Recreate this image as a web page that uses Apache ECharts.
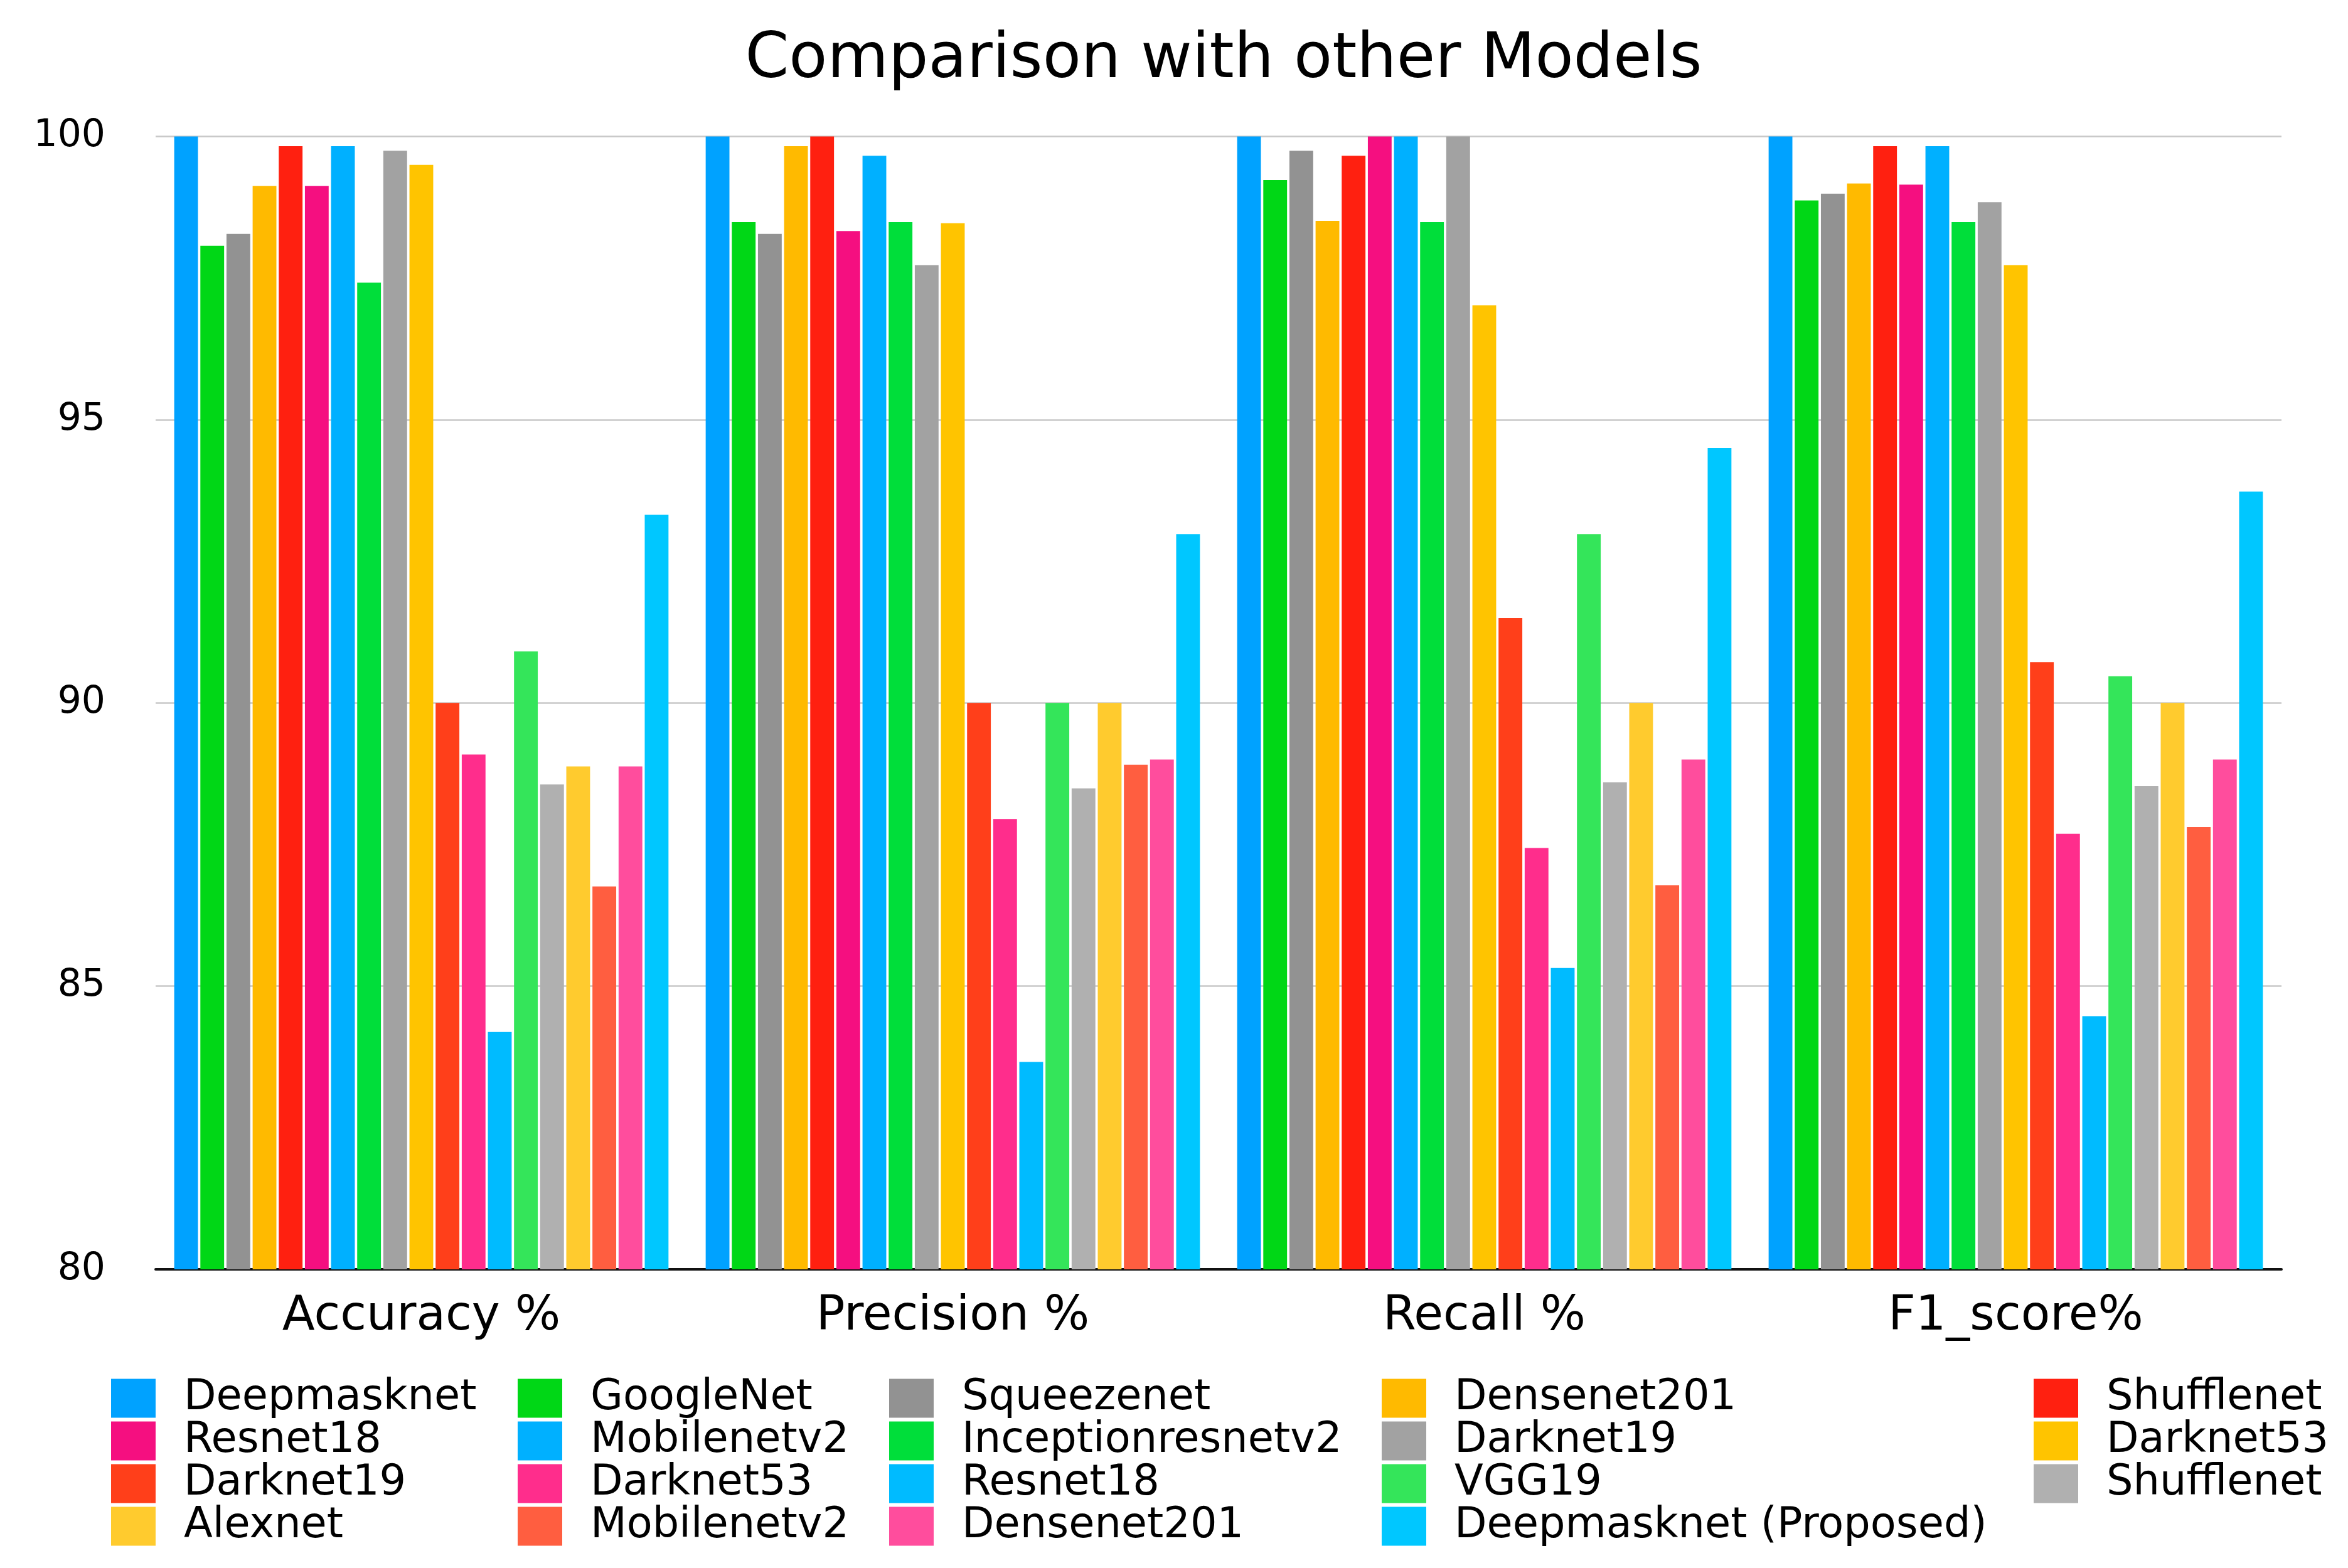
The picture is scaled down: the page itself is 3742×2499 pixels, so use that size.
<!DOCTYPE html>
<html><head><meta charset="utf-8">
<script src="https://cdn.jsdelivr.net/npm/echarts@6/dist/echarts.min.js"></script>
<style>html,body{margin:0;padding:0;background:#fff}#c{width:3742px;height:2499px}</style>
</head><body><div id="c"></div>
<script>
const categories = ['Accuracy %', 'Precision %', 'Recall %', 'F1_score%'];
const yTicks = [80, 85, 90, 95, 100];

// series names in legend order (row-major); "\u200B" keeps repeated names distinct
const seriesNames = [
  'Deepmasknet', 'GoogleNet', 'Squeezenet', 'Densenet201', 'Shufflenet',
  'Resnet18', 'Mobilenetv2', 'Inceptionresnetv2', 'Darknet19', 'Darknet53',
  'Darknet19\u200B', 'Darknet53\u200B', 'Resnet18\u200B', 'VGG19', 'Shufflenet\u200B',
  'Alexnet', 'Mobilenetv2\u200B', 'Densenet201\u200B', 'Deepmasknet (Proposed)'
];
const seriesColors = [
  '#00A2FF', '#00D716', '#929292', '#FFBA00', '#FF2010',
  '#F50F80', '#00B0FF', '#00DE3A', '#A2A2A2', '#FFC400',
  '#FF3F1A', '#FF2D8C', '#00BBFF', '#34E55A', '#B0B0B0',
  '#FFCB2E', '#FF5E40', '#FF4D9D', '#00C7FF'
];

const deepmasknet      = [100.00, 100.00, 100.00, 100.00];
const googlenet        = [98.07, 98.49, 99.23, 98.87];
const squeezenet       = [98.28, 98.28, 99.75, 98.99];
const densenet201      = [99.13, 99.83, 98.51, 99.17];
const shufflenet       = [99.83, 100.00, 99.66, 99.83];
const resnet18         = [99.13, 98.33, 100.00, 99.15];
const mobilenetv2      = [99.83, 99.66, 100.00, 99.83];
const inceptionresnet  = [97.42, 98.49, 98.49, 98.49];
const darknet19        = [99.75, 97.73, 100.00, 98.84];
const darknet53        = [99.50, 98.47, 97.02, 97.73];
const darknet19b       = [90.00, 90.00, 91.50, 90.72];
const darknet53b       = [89.09, 87.95, 87.44, 87.69];
const resnet18b        = [84.19, 83.66, 85.32, 84.47];
const vgg19            = [90.91, 90.00, 92.98, 90.47];
const shufflenetb      = [88.56, 88.49, 88.60, 88.53];
const alexnet          = [88.88, 90.00, 90.00, 90.00];
const mobilenetv2b     = [86.76, 88.91, 86.78, 87.81];
const densenet201b     = [88.88, 89.00, 89.00, 89.00];
const deepmasknetProp  = [93.32, 92.98, 94.50, 93.73];

const seriesValues = [
  deepmasknet, googlenet, squeezenet, densenet201, shufflenet,
  resnet18, mobilenetv2, inceptionresnet, darknet19, darknet53,
  darknet19b, darknet53b, resnet18b, vgg19, shufflenetb,
  alexnet, mobilenetv2b, densenet201b, deepmasknetProp
];

const FONT = 'DejaVu Sans';
const chart = echarts.init(document.getElementById('c'), null, {renderer: 'canvas'});

const series = seriesNames.map((name, i) => ({
  name: name,
  type: 'bar',
  data: seriesValues[i],
  barGap: '10%',
  barCategoryGap: '7%',
  itemStyle: {color: seriesColors[i]},
  emphasis: {disabled: true},
  z: 2
}));

const colLeft = [172, 820, 1412, 2197, 3236];
const legends = colLeft.map((left, c) => {
  const data = [];
  for (let r = 0; r < 4; r++) {
    const idx = r * 5 + c;
    if (idx < seriesNames.length) data.push(seriesNames[idx]);
  }
  return {
    orient: 'vertical',
    left: left,
    top: 2190,
    itemWidth: 71,
    itemHeight: 62,
    itemGap: 1,
    icon: 'rect',
    selectedMode: false,
    data: data,
    textStyle: {fontFamily: FONT, fontSize: 67, color: '#000', padding: [0, 0, 0, 40]}
  };
});

chart.setOption({
  animation: false,
  backgroundColor: '#fff',
  title: {
    text: 'Comparison with other Models',
    left: 1945,
    top: 42,
    textAlign: 'center',
    textStyle: {fontFamily: FONT, fontSize: 100, fontWeight: 'normal', color: '#000'}
  },
  grid: {left: 248, right: 106, top: 217.6, bottom: 476, containLabel: false, outerBoundsMode: 'none'},
  legend: legends,
  xAxis: {
    type: 'category',
    data: categories,
    axisLine: {show: true, lineStyle: {color: '#111', width: 4}},
    axisTick: {show: false},
    axisLabel: {fontFamily: FONT, fontSize: 76, color: '#000', margin: 38}
  },
  yAxis: {
    type: 'value',
    min: yTicks[0],
    max: yTicks[yTicks.length - 1],
    interval: yTicks[1] - yTicks[0],
    axisLine: {show: false},
    axisTick: {show: false},
    splitLine: {show: true, lineStyle: {color: '#C8C8C8', width: 2.5}},
    axisLabel: {fontFamily: FONT, fontSize: 60, color: '#000', margin: 80}
  },
  series: series
});
</script></body></html>
